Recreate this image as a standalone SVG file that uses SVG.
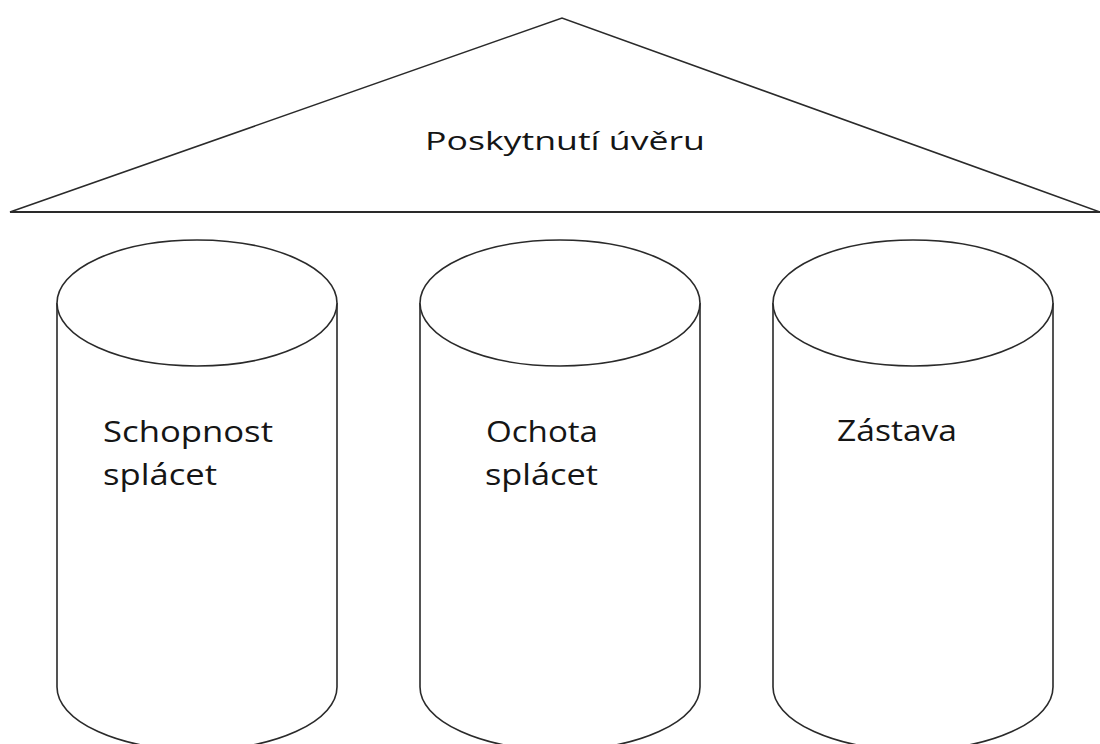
<svg xmlns="http://www.w3.org/2000/svg" width="1100" height="744" viewBox="0 0 1100 744">
<style>
.s{fill:#fff;stroke:#2a2a2a;stroke-width:1.6}
.t{font-family:"Open Sans","Liberation Sans",sans-serif;fill:#151515}
.c{font-size:30px}
</style>
<rect width="1100" height="744" fill="#fff"/>
<g id="roof">
<polygon class="s" points="10,212 562,18 1100,212"/>
<line x1="10" y1="212" x2="1100" y2="212" stroke="#2a2a2a" stroke-width="2.2"/>
<text class="t" x="425" y="150" font-size="26" textLength="280" lengthAdjust="spacingAndGlyphs">Poskytnutí úvěru</text>
</g>
<g id="pillar1">
<path class="s" d="M57,303 L57,687 A140,63 0 0 0 337,687 L337,303"/>
<ellipse class="s" cx="197" cy="303" rx="140" ry="63"/>
<text class="t c" x="103" y="442" textLength="170" lengthAdjust="spacingAndGlyphs">Schopnost</text>
<text class="t c" x="103" y="485" textLength="114" lengthAdjust="spacingAndGlyphs">splácet</text>
</g>
<g id="pillar2">
<path class="s" d="M420,303 L420,687 A140,63 0 0 0 700,687 L700,303"/>
<ellipse class="s" cx="560" cy="303" rx="140" ry="63"/>
<text class="t c" x="486" y="442" textLength="112" lengthAdjust="spacingAndGlyphs">Ochota</text>
<text class="t c" x="485" y="485" textLength="113" lengthAdjust="spacingAndGlyphs">splácet</text>
</g>
<g id="pillar3">
<path class="s" d="M773,303 L773,687 A140,63 0 0 0 1053,687 L1053,303"/>
<ellipse class="s" cx="913" cy="303" rx="140" ry="63"/>
<text class="t c" x="837" y="441" textLength="120" lengthAdjust="spacingAndGlyphs">Zástava</text>
</g>
<g id="connectors"/>
</svg>
